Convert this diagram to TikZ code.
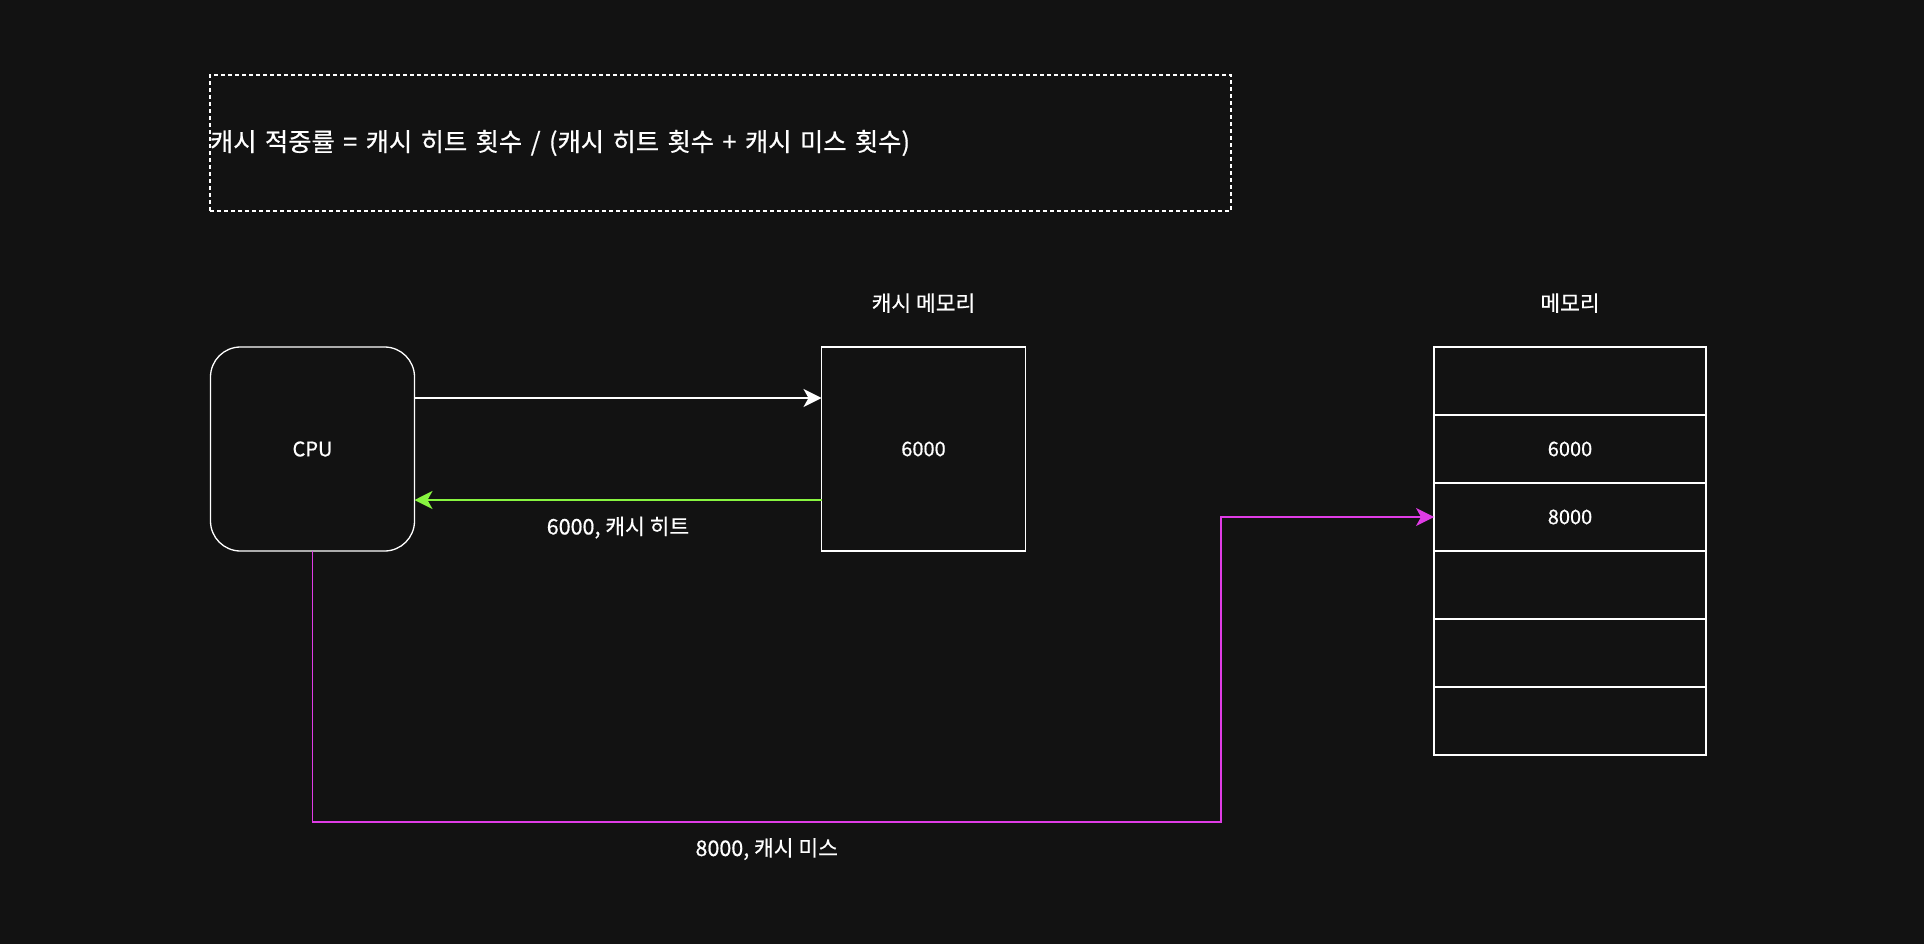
\documentclass[tikz,border=0pt]{standalone}
\usepackage{fontspec}
\setmainfont{Noto Sans CJK KR}[FakeBold=0.6]
\usepackage{xcolor}
\definecolor{cachbg}{HTML}{121212}
\definecolor{cachhit}{HTML}{88F540}
\definecolor{cachmiss}{HTML}{E03CE6}
\usepackage{tikz}
\usetikzlibrary{arrows.meta,positioning,calc}
\tikzset{
  cachbox/.style={draw=white,line width=1.3pt,inner sep=0pt,outer sep=0pt,align=center,text=white,font=\fontsize{20}{24}\selectfont,minimum width=204pt,minimum height=204pt},
  cachcell/.style={draw=white,line width=1.3pt,inner sep=0pt,outer sep=0pt,align=center,text=white,font=\fontsize{20}{24}\selectfont,minimum width=272pt,minimum height=68pt},
  cachflow/.style={-{Stealth[length=18pt,width=18pt,inset=5pt]},line width=1.3pt},
  cachlabel/.style={text=white,font=\fontsize{21.5}{26}\selectfont,inner sep=0pt},
}
\begin{document}
\begin{tikzpicture}[x=1pt,y=-1pt]
\fill[cachbg](0,0)rectangle(1924,944);
\useasboundingbox(0,0)rectangle(1924,944);
\node[draw=white,dash pattern=on 4pt off 3pt,line width=1.3pt,inner sep=0pt,minimum width=1021pt,minimum height=136pt,text width=1021pt,align=left,text=white,font=\fontsize{25.3}{30}\selectfont](rate) at (720.5,143){캐시 적중률 = 캐시 히트 횟수 / (캐시 히트 횟수 + 캐시 미스 횟수)};
\node[cachbox,rounded corners=30pt](cpu) at (312.5,449){CPU};
\node[cachbox,right=407pt of cpu](cache){6000};
\node[cachlabel,above=34pt of cache](cachename){캐시 메모리};
\node[cachcell](mem1) at (1570,381){};
\foreach \i/\val in {2/6000,3/8000,4/,5/,6/}{
  \pgfmathtruncatemacro{\prev}{\i-1}
  \node[cachcell,below=0pt of mem\prev](mem\i){\val};
}
\node[cachlabel,above=34pt of mem1](memname){메모리};
\coordinate(bend) at (1221,822);
\draw[cachflow,white]($(cpu.north east)!.25!(cpu.south east)$)--($(cache.north west)!.25!(cache.south west)$);
\draw[cachflow,cachhit]($(cache.north west)!.75!(cache.south west)$)--node[cachlabel,below=16pt]{6000, 캐시 히트}($(cpu.north east)!.75!(cpu.south east)$);
\draw[cachflow,cachmiss](cpu.south)|-(bend)|-(mem3.west);
\node[cachlabel,below=16pt] at ($(cpu.south|-bend)!.5!(bend)$){8000, 캐시 미스};
\end{tikzpicture}
\end{document}
